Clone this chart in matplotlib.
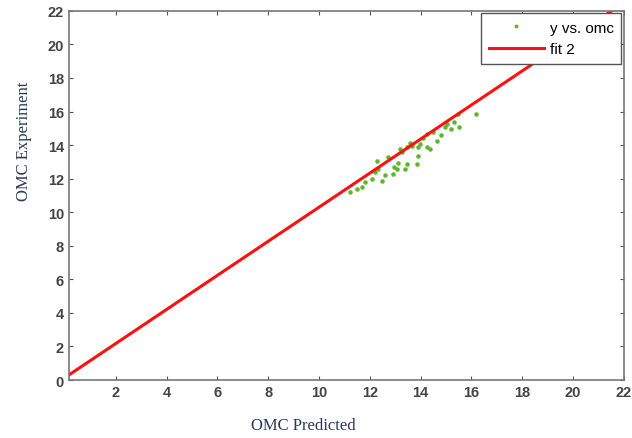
import numpy as np
import matplotlib.pyplot as plt

omc_pred = [15.46, 16.2, 15.03, 14.95, 15.2, 15.5, 14.48, 14.24, 14.09, 14.64,
            13.97, 13.65, 13.9, 14.24, 14.36, 13.18, 13.46, 13.26, 12.7, 13.9,
            12.28, 13.46, 13.85, 13.06, 13.38, 12.32, 12.9, 12.59, 12.08, 12.47,
            11.8, 11.69, 11.21, 11.49, 12.95, 13.6, 14.8, 15.3, 12.2, 13.1]
omc_exp = [15.86, 15.86, 15.27, 15.1, 14.97, 15.1, 14.8, 14.67, 14.43, 14.25,
           14.07, 13.95, 13.9, 13.9, 13.77, 13.77, 13.9, 13.6, 13.3, 13.36,
           13.06, 12.88, 12.88, 12.58, 12.58, 12.58, 12.28, 12.22, 11.99, 11.87,
           11.8, 11.5, 11.2, 11.39, 12.7, 14.1, 14.6, 15.4, 12.4, 12.95]

# fit 2 line
fit_slope = 1.015
fit_intercept = 0.15
fit_x = [0.15, 22]

fig = plt.figure(figsize=(6.32, 4.39), dpi=100)
ax = fig.add_axes([0.109, 0.132, 0.878, 0.841])

ax.plot(omc_pred, omc_exp, '.', color='#5cb82a', markersize=4.5, label='y vs. omc')
fx = np.array(fit_x)
ax.plot(fx, fit_slope * fx + fit_intercept, color='#ff1010', linewidth=2.2, label='fit 2')

ax.set_xlim(0.15, 22)
ax.set_ylim(0, 22)
ax.set_xticks(range(2, 23, 2))
ax.set_yticks(range(0, 23, 2))
ax.tick_params(direction='in', top=True, right=True, length=3, colors='#555555',
               labelcolor='#444444', labelsize=10.5)
for lbl in ax.get_xticklabels() + ax.get_yticklabels():
    lbl.set_fontweight('bold')
    lbl.set_family('Liberation Sans')
for s in ax.spines.values():
    s.set_color('#777777')
    s.set_linewidth(1.2)

ax.set_xlabel('OMC Predicted', family='Liberation Serif', fontsize=12, color='#2b3a55')
ax.set_ylabel('OMC Experiment', family='Liberation Serif', fontsize=12, color='#2b3a55')
ax.xaxis.set_label_coords(0.423, -0.1)
ax.yaxis.set_label_coords(-0.066, 0.648)

leg = ax.legend(loc='upper right', prop={'family': 'Liberation Sans', 'size': 11},
                fancybox=False, framealpha=1, borderaxespad=0.15, borderpad=0.5,
                handlelength=3.6, markerscale=0.8, handletextpad=0.4)
leg.get_frame().set_edgecolor('#555555')

plt.savefig('out.png', dpi=100)
